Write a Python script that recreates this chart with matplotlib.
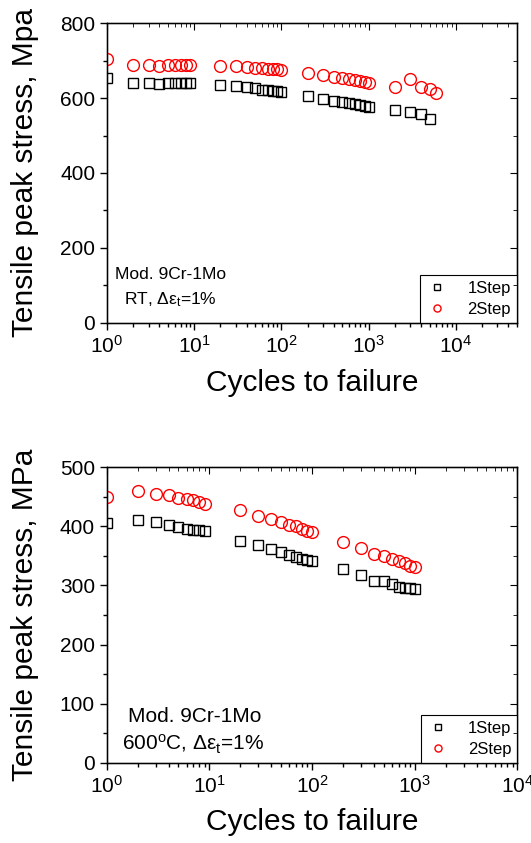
import numpy as np
import matplotlib
matplotlib.use('Agg')
import matplotlib.pyplot as plt
from matplotlib.ticker import MultipleLocator, LogLocator, NullFormatter

plt.rcParams['font.family'] = ['Liberation Sans', 'DejaVu Sans']
plt.rcParams['mathtext.fontset'] = 'custom'
plt.rcParams['mathtext.rm'] = 'Liberation Sans'
plt.rcParams['mathtext.it'] = 'Liberation Sans:italic'

# cycle numbers (same for both tests)
cyc_rt = [1, 2, 3, 4, 5, 6, 7, 8, 9, 20, 30, 40, 50, 60, 70, 80, 90, 100,
          200, 300, 400, 500, 600, 700, 800, 900, 1000, 2000, 3000, 4000, 5000]
rt_1step = [655, 640, 640, 637, 640, 640, 640, 640, 640,
            636, 632, 629, 626, 623, 621, 620, 618, 616,
            606, 598, 593, 589, 586, 583, 581, 579, 577,
            568, 564, 558, 543]
cyc_rt2 = cyc_rt + [6000]
rt_2step = [704, 689, 689, 687, 689, 689, 689, 689, 689,
            687, 685, 683, 681, 680, 679, 678, 677, 674,
            666, 661, 656, 653, 650, 648, 645, 643, 640,
            631, 650, 631, 624, 615]

cyc_ht = [1, 2, 3, 4, 5, 6, 7, 8, 9, 20, 30, 40, 50, 60, 70, 80, 90, 100,
          200, 300, 400, 500, 600, 700, 800, 900, 1000]
ht_1step = [406, 410, 408, 402, 399, 396, 394, 394, 392,
            375, 368, 361, 356, 352, 348, 345, 343, 342,
            327, 318, 308, 307, 302, 298, 296, 295, 294]
ht_2step = [450, 459, 454, 453, 448, 447, 444, 442, 438,
            428, 418, 412, 407, 402, 400, 396, 392, 391,
            374, 363, 354, 349, 345, 342, 338, 333, 331]

fig = plt.figure(figsize=(5.31, 8.43), dpi=100)
ax1 = fig.add_axes([0.2015, 0.6172, 0.7716, 0.3552])
ax2 = fig.add_axes([0.2010, 0.0953, 0.7733, 0.3504])


def style(ax, xlim, ylim, ymaj, ymin):
    ax.set_xscale('log')
    ax.set_xlim(xlim)
    ax.set_ylim(ylim)
    ax.yaxis.set_major_locator(MultipleLocator(ymaj))
    ax.yaxis.set_minor_locator(MultipleLocator(ymin))
    ax.xaxis.set_major_locator(LogLocator(base=10, numticks=10))
    ax.xaxis.set_minor_locator(LogLocator(base=10, subs=np.arange(2, 10), numticks=10))
    ax.xaxis.set_minor_formatter(NullFormatter())
    ax.tick_params(which='both', direction='out', labelsize=15, width=1)
    ax.tick_params(which='major', length=5)
    ax.tick_params(which='minor', length=3)
    for s in ax.spines.values():
        s.set_linewidth(1)
    # mirrored inward ticks on top and right
    tx = ax.twiny()
    tx.set_xscale('log')
    tx.set_xlim(xlim)
    tx.xaxis.set_major_locator(LogLocator(base=10, numticks=10))
    tx.xaxis.set_minor_locator(LogLocator(base=10, subs=np.arange(2, 10), numticks=10))
    tx.tick_params(which='both', direction='in', labeltop=False)
    tx.tick_params(which='major', length=5)
    tx.tick_params(which='minor', length=3)
    ty = ax.twinx()
    ty.set_ylim(ylim)
    ty.yaxis.set_major_locator(MultipleLocator(ymaj))
    ty.yaxis.set_minor_locator(MultipleLocator(ymin))
    ty.tick_params(which='both', direction='in', labelright=False)
    ty.tick_params(which='major', length=5)
    ty.tick_params(which='minor', length=3)
    ax.set_xlabel('Cycles to failure', fontsize=21.5)


# top panel: room temperature
ax1.plot(cyc_rt, rt_1step, 's', ms=7.5, mfc='none', mec='k', mew=1, label='1Step', zorder=5)
ax1.plot(cyc_rt2, rt_2step, 'o', ms=8.5, mfc='none', mec='red', mew=1, label='2Step', zorder=5)
style(ax1, (1, 5e4), (0, 800), 200, 100)
ax1.set_ylabel('Tensile peak stress, Mpa', fontsize=21.5)
ax1.text(0.0195, 0.146, 'Mod. 9Cr-1Mo', transform=ax1.transAxes, fontsize=12.5)
ax1.text(0.041, 0.061, 'RT, Δε$_{\\rm t}$=1%', transform=ax1.transAxes, fontsize=12.5)
leg = ax1.legend(loc='lower right', fontsize=12, markerscale=0.6, borderaxespad=0,
                 fancybox=False, edgecolor='k', framealpha=1, handletextpad=1.1,
                 handlelength=1.4, borderpad=0.35, labelspacing=0.35)
leg.get_frame().set_linewidth(0.8)

# bottom panel: 600 C
ax2.plot(cyc_ht, ht_1step, 's', ms=7.5, mfc='none', mec='k', mew=1, label='1Step', zorder=5)
ax2.plot(cyc_ht, ht_2step, 'o', ms=8.5, mfc='none', mec='red', mew=1, label='2Step', zorder=5)
style(ax2, (1, 1e4), (0, 500), 100, 50)
ax2.set_ylabel('Tensile peak stress, MPa', fontsize=21.5)
ax2.text(0.052, 0.138, 'Mod. 9Cr-1Mo', transform=ax2.transAxes, fontsize=15)
ax2.text(0.037, 0.043, '600$^{\\rm o}$C, Δε$_{\\rm t}$=1%', transform=ax2.transAxes, fontsize=15)
leg = ax2.legend(loc='lower right', fontsize=12, markerscale=0.6, borderaxespad=0,
                 fancybox=False, edgecolor='k', framealpha=1, handletextpad=1.1,
                 handlelength=1.4, borderpad=0.35, labelspacing=0.35)
leg.get_frame().set_linewidth(0.8)

for ax in (ax1, ax2):
    ax.yaxis.set_label_coords(-0.165, 0.5)
    ax.xaxis.set_label_coords(0.5, -0.155)

fig.savefig('out.png', dpi=100)
